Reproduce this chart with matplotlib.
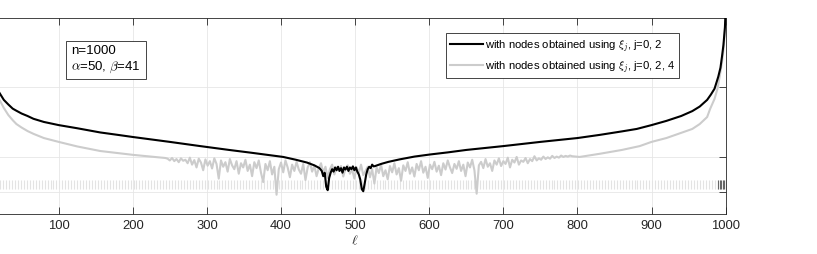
import numpy as np
import matplotlib
matplotlib.use("Agg")
import matplotlib.pyplot as plt
from matplotlib.ticker import NullLocator

plt.rcParams['font.family'] = ['Liberation Sans', 'DejaVu Sans']
plt.rcParams['mathtext.fontset'] = 'cm'

# log10 of the error
# black curve: nodes from xi_j, j=0,2
ell_black = [1, 2, 3, 4, 5, 7, 10, 13, 17, 21, 26, 32, 38, 43, 50, 58, 66, 80,
             100, 125, 156, 180, 200, 250, 291, 330, 360, 385, 403, 420, 435,
             445, 452,
             455, 457, 459, 461, 463, 465, 467, 469, 471, 473, 475, 477, 479,
             481, 483, 485, 487, 489, 491, 493, 495, 497, 499, 501, 503, 505,
             507, 509, 511, 513, 515, 517, 519, 521, 523, 525,
             527, 535, 545, 560, 580, 601, 625, 650, 700, 750, 800, 830, 860,
             880, 900, 920, 940, 955, 965, 975, 980, 985, 990, 993, 995, 997,
             999, 1000]
err_black = [-9.8, -10.45, -10.8, -11.0, -11.14, -11.42, -11.7, -11.9, -12.06,
             -12.2, -12.37, -12.5, -12.62, -12.68, -12.76, -12.83, -12.91, -13.0,
             -13.09, -13.18, -13.3, -13.37, -13.43, -13.57, -13.69, -13.8, -13.88,
             -13.95, -14.0, -14.08, -14.16, -14.24, -14.32,
             -14.40, -14.55, -14.45, -14.85, -14.95, -14.6, -14.45, -14.35, -14.42,
             -14.3, -14.38, -14.28, -14.4, -14.32, -14.45, -14.3, -14.36, -14.28,
             -14.4, -14.3, -14.35, -14.27, -14.38, -14.3, -14.42, -14.5, -14.65,
             -14.92, -14.98, -14.75, -14.5, -14.35, -14.28, -14.32, -14.22, -14.27,
             -14.26, -14.2, -14.14, -14.07, -13.99, -13.93, -13.87, -13.8, -13.69,
             -13.57, -13.46, -13.37, -13.27, -13.2, -13.09, -12.97, -12.83, -12.69,
             -12.56, -12.37, -12.22, -12.05, -11.71, -11.45, -11.14, -10.8, -10.3,
             -9.8]

# gray curve: nodes from xi_j, j=0,2,4
ell_gray_left = [1, 2, 3, 5, 8, 12, 16, 21, 26, 32, 38, 43, 50, 58, 66, 80, 100,
                 125, 156, 180, 200, 225, 244]
err_gray_left = [-9.9, -10.6, -11.0, -11.45, -11.8, -12.05, -12.25, -12.4, -12.6,
                 -12.8, -12.95, -13.06, -13.16, -13.26, -13.34, -13.46, -13.57,
                 -13.7, -13.83, -13.89, -13.94, -13.99, -14.03]
ell_gray_mid = list(range(247, 794, 3))
err_gray_mid = [
    -14.05, -14.10, -14.03, -14.12, -14.06, -14.15, -14.04, -14.11, -14.08, -14.18,
    -14.02, -14.22, -14.09, -14.30, -14.05, -14.16, -14.38, -14.07, -14.25, -14.12,
    -14.33, -14.04, -14.20, -14.62, -14.10, -14.28, -14.15, -14.42, -14.06, -14.24,
    -14.35, -14.12, -14.48, -14.18, -14.30, -14.08, -14.40, -14.22, -14.55, -14.15,
    -14.32, -14.10, -14.45, -14.72, -14.20, -14.38, -14.12, -14.50, -14.28, -15.08,
    -14.35, -14.16, -14.44, -14.10, -14.30, -14.58, -14.22, -14.40, -14.14, -14.36,
    -14.48, -14.20, -14.66, -14.30, -14.15, -14.42, -14.25, -14.55, -14.32, -14.18,
    -14.45, -14.28, -14.60, -14.35, -14.22, -14.50, -14.30, -14.40, -14.26, -14.56,
    -14.34, -14.24, -14.48, -14.36, -14.62, -14.30, -14.45, -14.22, -14.52, -14.40,
    -14.28, -14.58, -14.35, -14.76, -14.30, -14.46, -14.22, -14.55, -14.38, -14.64,
    -14.26, -14.44, -14.18, -14.50, -14.32, -14.68, -14.24, -14.40, -14.15, -14.48,
    -14.30, -14.56, -14.20, -14.38, -14.12, -14.45, -14.28, -14.60, -14.22, -14.35,
    -14.14, -14.42, -14.25, -14.52, -14.18, -14.36, -14.10, -14.30, -14.46, -14.20,
    -14.34, -14.12, -14.40, -14.22, -14.55, -14.16, -14.30, -14.08, -14.38, -15.05,
    -14.24, -14.14, -14.32, -14.06, -14.28, -14.18, -14.40, -14.10, -14.22, -14.04,
    -14.26, -14.12, -14.20, -14.02, -14.30, -14.08, -14.16, -14.00, -14.22, -14.10,
    -14.14, -14.03, -14.18, -14.06, -14.12, -13.98, -14.10, -14.04, -14.08, -13.99,
    -14.06, -14.01, -14.05, -13.97, -14.03, -13.99, -14.02, -13.96, -14.00, -13.97,
    -13.99, -13.96, -13.98]
ell_gray_right = [803, 830, 860, 884, 900, 920, 940, 955, 965, 975, 979, 985,
                  989, 992, 995, 997, 999, 1000]
err_gray_right = [-14.0, -13.91, -13.8, -13.69, -13.57, -13.46, -13.31, -13.2,
                  -13.06, -12.86, -12.63, -12.34, -12.05, -11.69, -11.3, -10.95,
                  -10.4, -10.0]

# faint hatch band near machine precision
ell_band = list(range(1, 1001, 4))
band_lo, band_hi = -14.91, -14.66
ell_band_dark = [990, 992, 994, 996, 998, 1000]

ell_gray = ell_gray_left + ell_gray_mid + ell_gray_right
err_gray = err_gray_left + err_gray_mid + err_gray_right

fig = plt.figure(figsize=(8.17, 2.55), dpi=100)
ax = fig.add_axes([-0.0189, 0.1569, 0.9071, 0.7686])

ax.vlines(ell_band, 10**band_lo, 10**band_hi, color='#e3e3e3', lw=0.8, zorder=1)
ax.vlines(ell_band_dark, 10**band_lo, 10**band_hi, color='#666666', lw=0.8, zorder=1)
ax.plot(ell_black, 10**np.array(err_black), color='black', lw=1.5, zorder=3,
        label=r'with nodes obtained using $\xi_j$, j=0, 2')
ax.plot(ell_gray, 10**np.array(err_gray), color='#cccccc', lw=1.5, zorder=2,
        label=r'with nodes obtained using $\xi_j$, j=0, 2, 4')

ax.set_yscale('log')
ax.set_xlim(0, 1000)
ax.set_ylim(10**-15.63, 10**-10.03)
ax.set_xticks(range(100, 1001, 100))
ax.set_yticks([1e-15, 1e-14, 1e-12])
ax.yaxis.set_minor_locator(NullLocator())
ax.tick_params(axis='both', direction='in', top=True, right=True, length=5,
               width=0.6, color='#262626', labelsize=9.4, labelleft=False,
               labelcolor='#262626')
ax.grid(True, color='#e6e6e6', lw=0.6)
ax.set_axisbelow(True)
for s in ax.spines.values():
    s.set_color('#262626')
    s.set_linewidth(0.6)
ax.set_xlabel(r'$\ell$', fontsize=10, labelpad=1, color='#262626')

# legend box spans roughly x 453-679 px, top at 34 px
leg = ax.legend(loc='upper right', bbox_to_anchor=(0.937, 0.923),
                borderaxespad=0, fontsize=8.1, handlelength=2.9,
                handletextpad=0.2, borderpad=0.35, labelspacing=0.4,
                fancybox=False, framealpha=1)
leg.get_frame().set_edgecolor('#262626')
leg.get_frame().set_linewidth(0.6)

ax.text(0.1166, 0.867, 'n=1000\n' + r'$\alpha$=50, $\beta$=41',
        transform=ax.transAxes, fontsize=9.5, va='top', ha='left',
        linespacing=1.25,
        bbox=dict(boxstyle='square,pad=0.4', fc='white', ec='#262626', lw=0.6))

fig.savefig('out.png', dpi=100)
